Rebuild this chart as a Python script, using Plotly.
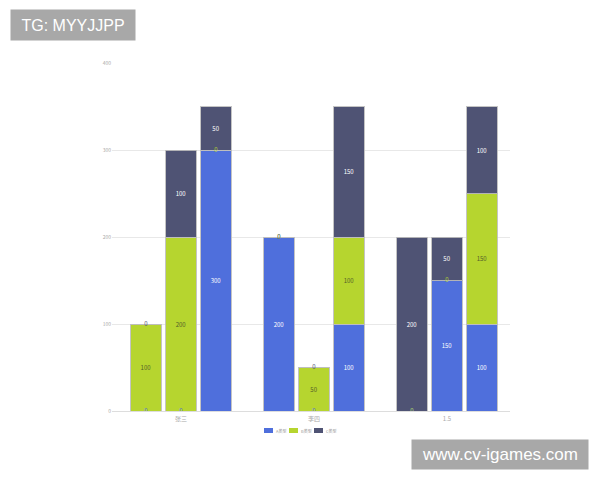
import plotly.graph_objects as go

groups = ["张三", "李四", "1.5"]
series_names = ["A类型", "B类型", "C类型"]
# 9 bars: 3 groups x 3 bars each
a_vals = [0, 0, 300, 200, 0, 100, 0, 150, 100]
b_vals = [100, 200, 0, 0, 50, 100, 0, 0, 150]
c_vals = [0, 100, 50, 0, 0, 150, 200, 50, 100]
y_ticks = [0, 100, 200, 300, 400]

colors = ["#4f6fdc", "#b6d52f", "#4f5374"]
text_colors = ["#ffffff", "#55602a", "#ffffff"]

# page is rendered with an 8px body offset; work in figure pixels
L, T, PW, PH = 104, 55, 398, 348


def px(xf):
    return (xf - L) / PW


def py(yf):
    return (T + PH - yf) / PH


# bar positions (group spacing 3.8 units, bar spacing 1)
xs = [g * 3.8 + (j - 1) for g in range(3) for j in range(3)]

fig = go.Figure()
series = [a_vals, b_vals, c_vals]
for name, vals, col, tc in zip(series_names, series, colors, text_colors):
    fig.add_trace(go.Bar(
        x=xs, y=vals, name=name, width=0.86,
        marker=dict(color=col, line=dict(color="rgba(190,190,190,0.9)", width=1)),
        text=[str(v) if v else "" for v in vals],
        textposition="inside", insidetextanchor="middle",
        textfont=dict(size=6, color=tc),
        hoverinfo="skip", showlegend=False,
    ))

# labels for zero-valued segments
for i, (vals, col) in enumerate(zip(series, colors)):
    zx, zy = [], []
    for k in range(9):
        if vals[k] == 0:
            base = sum(series[m][k] for m in range(i))
            zx.append(xs[k])
            zy.append(base)
    fig.add_trace(go.Scatter(
        x=zx, y=zy, mode="text", text=["0"] * len(zx),
        textfont=dict(size=6, color=col), showlegend=False, hoverinfo="skip",
    ))

fig.update_layout(
    barmode="stack",
    width=600, height=480,
    margin=dict(l=L, r=600 - L - PW, t=T, b=480 - T - PH),
    paper_bgcolor="white", plot_bgcolor="white",
    font=dict(family="Noto Sans CJK SC, Noto Sans, sans-serif", size=5, color="#aaaaaa"),
    showlegend=False,
    xaxis=dict(range=[-1.97, 9.4], tickmode="array",
               tickvals=[g * 3.8 for g in range(3)], ticktext=groups,
               showgrid=False, zeroline=False, showline=True,
               linecolor="#dddddd", linewidth=1, ticks="outside", ticklen=2,
               tickcolor="rgba(0,0,0,0)",
               tickfont=dict(size=6, color="#aaaaaa")),
    yaxis=dict(range=[0, 400], tickmode="array", tickvals=y_ticks,
               showgrid=True, gridcolor="#e8e8e8", zeroline=False,
               showline=False, ticks="", tickfont=dict(size=5, color="#aaaaaa")),
)

# manual compact legend (figure pixels)
leg_x = [256, 281, 306]
for name, col, lx in zip(series_names, colors, leg_x):
    fig.add_shape(type="rect", xref="paper", yref="paper",
                  x0=px(lx), x1=px(lx + 9), y0=py(425), y1=py(420),
                  fillcolor=col, line=dict(width=0))
    fig.add_annotation(xref="paper", yref="paper", x=px(lx + 10), y=py(422.5),
                       xanchor="left", yanchor="middle", text=name, showarrow=False,
                       font=dict(size=4, color="#999999"))

fig.add_annotation(xref="paper", yref="paper", x=px(2), y=py(17),
                   xanchor="left", yanchor="middle", text="TG: MYYJJPP",
                   showarrow=False, bgcolor="#a8a8a8",
                   font=dict(size=16, color="white", family="Liberation Sans, Arial"),
                   borderpad=5, width=114, height=20, align="center")
fig.add_annotation(xref="paper", yref="paper", x=px(581), y=py(446.5),
                   xanchor="right", yanchor="middle", text="www.cv-igames.com",
                   showarrow=False, bgcolor="#a8a8a8",
                   font=dict(size=17, color="white", family="Liberation Sans, Arial"),
                   borderpad=5, width=166, height=19, align="center")

fig.write_html("out.html")
